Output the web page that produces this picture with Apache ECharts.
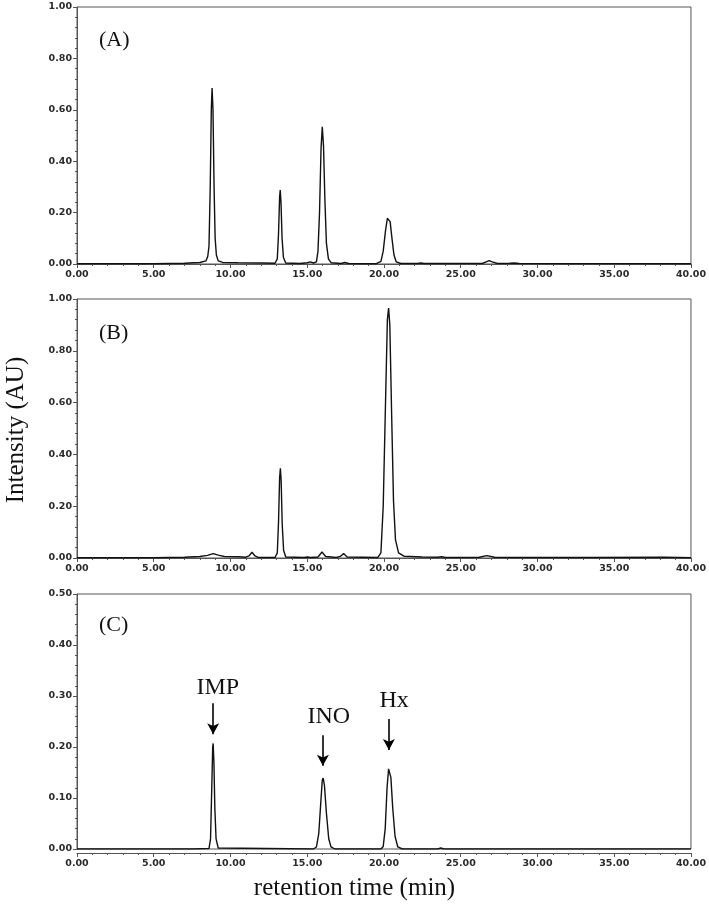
<!DOCTYPE html>
<html>
<head>
<meta charset="utf-8" />
<script src="https://cdn.jsdelivr.net/npm/echarts@6/dist/echarts.min.js"></script>
<style>
  html, body { margin: 0; padding: 0; background: #fff; }
  #main { width: 709px; height: 909px; }
</style>
</head>
<body>
<div id="main"></div>
<script type="text/javascript">
// retention time (min), intensity (AU)
var traceA = [
  [0, 0.001], [5, 0.001], [7, 0.003], [8.0, 0.006], [8.4, 0.012], [8.52, 0.03], [8.6, 0.07],
  [8.68, 0.3], [8.75, 0.6], [8.8, 0.685], [8.86, 0.6], [8.93, 0.3], [9.0, 0.1], [9.08, 0.035],
  [9.2, 0.012], [9.5, 0.006], [10.5, 0.005], [12.0, 0.004], [12.9, 0.003], [13.05, 0.02],
  [13.13, 0.12], [13.2, 0.26], [13.24, 0.288], [13.29, 0.24], [13.36, 0.1], [13.45, 0.025],
  [13.6, 0.004], [14.5, 0.002], [15.0, 0.005], [15.2, 0.008], [15.4, 0.004], [15.6, 0.008],
  [15.7, 0.05], [15.8, 0.2], [15.9, 0.45], [15.98, 0.534], [16.06, 0.46], [16.15, 0.25],
  [16.25, 0.08], [16.38, 0.02], [16.55, 0.005], [17.2, 0.002], [17.45, 0.006], [17.7, 0.002],
  [19.5, 0.001], [19.8, 0.01], [19.95, 0.05], [20.1, 0.13], [20.22, 0.178], [20.3, 0.184],
  [20.4, 0.165], [20.52, 0.1], [20.65, 0.035], [20.8, 0.008], [21.1, 0.002], [22.2, 0.002],
  [22.4, 0.004], [22.6, 0.002], [26.4, 0.002], [26.7, 0.009], [26.85, 0.013], [27.05, 0.008],
  [27.4, 0.002], [28.2, 0.003], [28.5, 0.004], [28.8, 0.002], [40, 0.001]
];
var traceB = [
  [0, 0.001], [5, 0.001], [7.0, 0.003], [8.0, 0.006], [8.5, 0.01], [8.87, 0.017], [9.2, 0.011],
  [9.6, 0.006], [10.5, 0.005], [11.0, 0.003], [11.2, 0.008], [11.4, 0.022], [11.6, 0.008],
  [11.8, 0.002], [12.9, 0.002], [13.05, 0.02], [13.13, 0.14], [13.2, 0.31], [13.25, 0.346],
  [13.3, 0.3], [13.37, 0.13], [13.46, 0.03], [13.6, 0.004], [14.8, 0.002], [15.0, 0.004],
  [15.2, 0.002], [15.7, 0.004], [15.96, 0.023], [16.2, 0.006], [16.9, 0.002], [17.15, 0.006],
  [17.37, 0.017], [17.6, 0.004], [19.6, 0.002], [19.8, 0.02], [19.95, 0.2], [20.1, 0.6],
  [20.22, 0.92], [20.3, 0.965], [20.38, 0.9], [20.5, 0.55], [20.62, 0.22], [20.75, 0.07],
  [20.95, 0.02], [21.3, 0.007], [22.5, 0.004], [23.5, 0.003], [23.75, 0.005], [24.0, 0.002],
  [26.2, 0.003], [26.7, 0.009], [27.2, 0.003], [28.6, 0.002], [33.6, 0.002], [38.3, 0.003],
  [40, 0.001]
];
var traceC = [
  [0, 0.0], [7.5, 0.0], [8.6, 0.001], [8.7, 0.02], [8.78, 0.12], [8.84, 0.2], [8.87, 0.207],
  [8.92, 0.17], [8.98, 0.08], [9.06, 0.02], [9.2, 0.002], [15.4, 0.0], [15.6, 0.004],
  [15.75, 0.03], [15.88, 0.09], [15.98, 0.135], [16.04, 0.139], [16.12, 0.125], [16.25, 0.07],
  [16.4, 0.02], [16.55, 0.004], [16.8, 0.0], [19.8, 0.0], [19.95, 0.005], [20.08, 0.04],
  [20.2, 0.12], [20.3, 0.157], [20.36, 0.159], [20.45, 0.14], [20.57, 0.08], [20.72, 0.025],
  [20.9, 0.004], [21.2, 0.0], [23.5, 0.0], [23.7, 0.002], [23.9, 0.0], [40, 0.0]
];
var panelLabels = ['(A)', '(B)', '(C)'];
var yMax = [1.0, 1.0, 0.5];
var yStep = [0.2, 0.2, 0.1];
// peak names in (C): arrow x, arrow top, arrow tip, text x, text y
var peakNames = ['IMP', 'INO', 'Hx'];
var arrowX = [8.87, 16.02, 20.32];
var arrowTop = [0.286, 0.223, 0.255];
var arrowTip = [0.225, 0.163, 0.194];
var nameX = [9.17, 16.4, 20.66];
var nameY = [0.317, 0.26, 0.29];

var traces = [traceA, traceB, traceC];
var grids = [
  { left: 77, right: 17, top: 7, height: 257 },
  { left: 77, right: 17, top: 299, height: 259 },
  { left: 77, right: 17, top: 594, height: 255 }
];
var tickFont = { fontFamily: 'DejaVu Sans', fontWeight: 'bold', fontSize: 9.5, color: '#2a2a2a' };
var axisCol = '#555';

var myChart = echarts.init(document.getElementById('main'));
var option = {
  animation: false,
  backgroundColor: '#fff',
  title: panelLabels.map(function (t, i) {
    return {
      text: t,
      left: 94,
      top: [24, 317, 609][i],
      textStyle: { fontFamily: 'Liberation Serif', fontSize: 22, fontWeight: 'normal', color: '#111' }
    };
  }).concat([
    {
      text: 'retention time (min)',
      left: 'center',
      top: 871,
      textStyle: { fontFamily: 'Liberation Serif', fontSize: 25, fontWeight: 'normal', color: '#111' }
    }
  ]),
  graphic: [
    {
      type: 'text',
      x: 4,
      y: 430,
      rotation: Math.PI / 2,
      style: {
        text: 'Intensity (AU)',
        font: '25px "Liberation Serif"',
        fill: '#111',
        align: 'center',
        verticalAlign: 'top'
      }
    }
  ],
  grid: grids.map(function (g) {
    return Object.assign({ show: true, borderColor: axisCol, borderWidth: 1 }, g);
  }),
  xAxis: grids.map(function (g, i) {
    return {
      type: 'value',
      gridIndex: i,
      min: 0,
      max: 40,
      interval: 5,
      offset: i === 2 ? 4 : 0,
      axisLine: { show: true, onZero: false, lineStyle: { color: axisCol, width: 1 } },
      axisTick: { show: true, inside: false, length: 4, lineStyle: { color: axisCol } },
      minorTick: { show: true, splitNumber: 5, length: 2, lineStyle: { color: axisCol } },
      splitLine: { show: false },
      axisLabel: Object.assign({ margin: 6, formatter: function (v) { return v.toFixed(2); } }, tickFont)
    };
  }),
  yAxis: grids.map(function (g, i) {
    return {
      type: 'value',
      gridIndex: i,
      min: 0,
      max: yMax[i],
      interval: yStep[i],
      axisLine: { show: true, lineStyle: { color: axisCol, width: 1 } },
      axisTick: { show: true, inside: false, length: 4, lineStyle: { color: axisCol } },
      minorTick: { show: true, splitNumber: 5, length: 2, lineStyle: { color: axisCol } },
      splitLine: { show: false },
      axisLabel: Object.assign({ margin: 5, formatter: function (v) { return v.toFixed(2); } }, tickFont)
    };
  }),
  series: traces.map(function (tr, i) {
    var s = {
      type: 'line',
      xAxisIndex: i,
      yAxisIndex: i,
      data: tr,
      symbol: 'none',
      smooth: false,
      lineStyle: { color: '#111', width: 1.4 }
    };
    if (i === 2) {
      s.markLine = {
        silent: true,
        symbol: ['none', 'arrow'],
        symbolSize: [9, 11],
        label: { show: false },
        lineStyle: { color: '#000', width: 1.6, type: 'solid' },
        data: peakNames.map(function (n, k) {
          return [{ coord: [arrowX[k], arrowTop[k]] }, { coord: [arrowX[k], arrowTip[k]] }];
        })
      };
      s.markPoint = {
        silent: true,
        symbol: 'circle',
        symbolSize: 0,
        data: peakNames.map(function (n, k) {
          return {
            name: n,
            coord: [nameX[k], nameY[k]],
            label: {
              show: true,
              position: 'inside',
              formatter: '{b}',
              fontFamily: 'Liberation Serif',
              fontSize: 24,
              color: '#111'
            }
          };
        })
      };
    }
    return s;
  })
};
myChart.setOption(option);
</script>
</body>
</html>
